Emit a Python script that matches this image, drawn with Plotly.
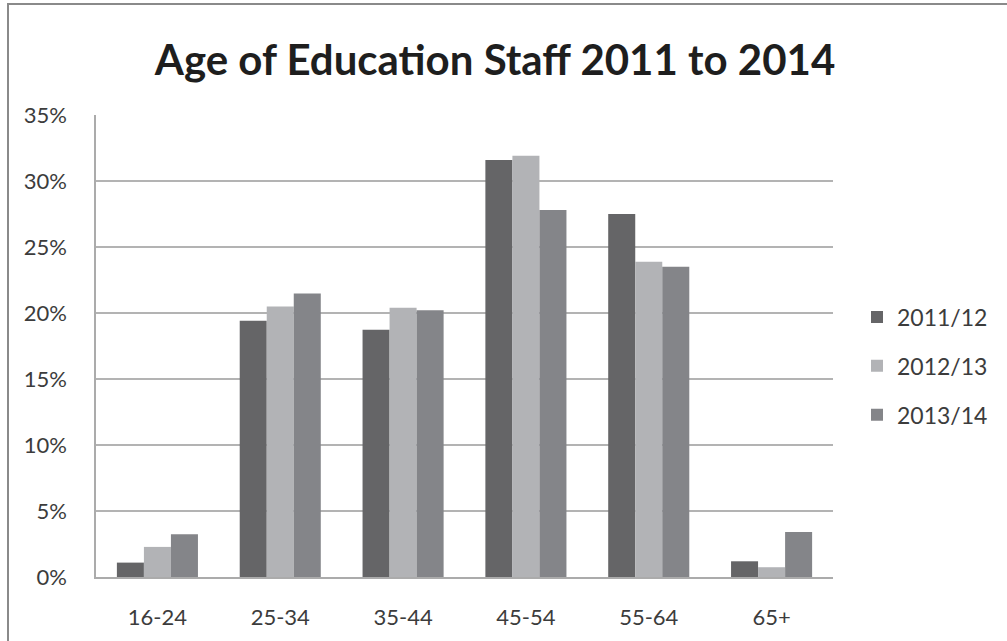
import plotly.graph_objects as go

categories = ["16-24", "25-34", "35-44", "45-54", "55-64", "65+"]
series_names = ["2011/12", "2012/13", "2013/14"]
v_2011_12 = [0.0109, 0.1942, 0.1874, 0.3160, 0.2750, 0.0119]
v_2012_13 = [0.0228, 0.2050, 0.2039, 0.3192, 0.2388, 0.0074]
v_2013_14 = [0.0324, 0.2147, 0.2020, 0.2780, 0.2350, 0.0341]
colors = ["#656567", "#b2b3b6", "#848589"]
tick_vals = [0, 0.05, 0.10, 0.15, 0.20, 0.25, 0.30, 0.35]
tick_text = ["0%", "5%", "10%", "15%", "20%", "25%", "30%", "35%"]

fig = go.Figure()
for i, (name, vals) in enumerate(zip(series_names, [v_2011_12, v_2012_13, v_2013_14])):
    fig.add_trace(go.Bar(
        x=categories, y=vals, name=name,
        marker=dict(color=colors[i], line=dict(width=0)),
        legendgroup=name,
    ))

W, H = 1007, 641
L, R, T, B = 96, 174, 115, 64
pw, ph = W - L - R, H - T - B

def px_x(p):
    return (p - L) / pw

def px_y(p):
    return (H - B - p) / ph

fig.update_layout(
    width=W, height=H,
    margin=dict(l=L, r=R, t=T, b=B, autoexpand=False),
    paper_bgcolor="white", plot_bgcolor="white",
    barmode="group", bargap=0.34, bargroupgap=0,
    font=dict(family="Lato, Open Sans, sans-serif", color="#3c3c3c", size=22),
    title=dict(text="<b>Age of Education Staff 2011 to 2014</b>",
               font=dict(family="Lato, sans-serif", size=42, color="#1e1e1e"),
               x=px_x(495), xref="paper", xanchor="center",
               y=1 - 60 / H, yanchor="middle"),
    legend=dict(x=px_x(857), y=px_y(366), xanchor="left", yanchor="middle",
                font=dict(size=23, color="#3c3c3c"), tracegroupgap=16,
                itemwidth=30, bgcolor="rgba(0,0,0,0)"),
    showlegend=True,
    xaxis=dict(showline=True, linecolor="#ababab", linewidth=1.5,
               showgrid=False, ticks="", tickfont=dict(size=22),
               ticklabelstandoff=20),
    yaxis=dict(range=[0, 0.35], tickvals=tick_vals, ticktext=tick_text,
               showgrid=True, gridcolor="#b3b3b3", gridwidth=1.5,
               showline=True, linecolor="#ababab", linewidth=1.5,
               ticks="", tickfont=dict(size=22), ticklabelstandoff=23,
               zeroline=False),
    shapes=[dict(type="rect", xref="paper", yref="paper",
                 x0=px_x(8), x1=px_x(1020), y0=px_y(660), y1=px_y(4),
                 line=dict(color="#8a8a8a", width=2), fillcolor="rgba(0,0,0,0)",
                 layer="below")],
)

fig.write_html("out.html", config={"displayModeBar": False},
               post_script="document.body.style.margin='0px';")
